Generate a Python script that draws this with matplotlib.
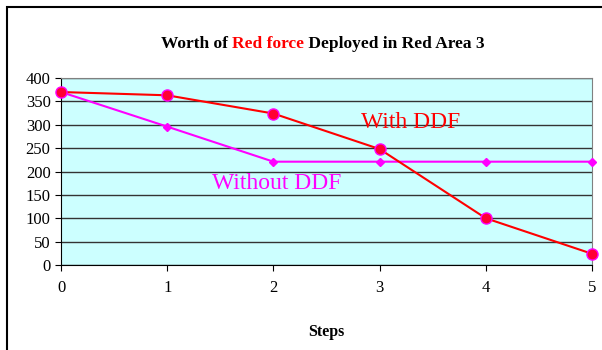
import matplotlib
matplotlib.use("Agg")
import matplotlib.pyplot as plt
from matplotlib.patches import Rectangle

# Worth of red force per step
steps = [0, 1, 2, 3, 4, 5]
with_ddf = [370, 363, 324, 248, 100, 24]
without_ddf = [370, 296, 221, 221, 221, 221]

plt.rcParams['font.family'] = ['Liberation Serif', 'DejaVu Serif']

fig = plt.figure(figsize=(6.02, 3.5), dpi=100)
ax = fig.add_axes([61 / 602, 1 - 265 / 350, 531 / 602, 187 / 350])

# outer chart frame (cut off at the right and bottom)
fig.patches.append(Rectangle((7 / 602, -0.1), 1.2, 1 - 7 / 350 + 0.1,
                             transform=fig.transFigure, fill=False,
                             edgecolor='black', linewidth=1.5))

ax.set_facecolor('#CCFFFF')
ax.set_xlim(0, 5)
ax.set_ylim(0, 400)
ax.set_yticks(range(0, 401, 50))
ax.set_xticks(steps)
ax.yaxis.grid(True, color='#333333', linewidth=1)
ax.set_axisbelow(True)

for side in ['top', 'right']:
    ax.spines[side].set_color('#808080')
ax.spines['left'].set_color('black')
ax.spines['bottom'].set_color('black')
ax.tick_params(axis='both', direction='out', length=4, labelsize=12, color='black')
ax.tick_params(axis='x', pad=7)

ax.plot(steps, without_ddf, color='#FF00FF', linewidth=1.5, marker='D',
        markersize=4.5, clip_on=False, zorder=3)
ax.plot(steps, with_ddf, color='#FF0000', linewidth=1.5, marker='o',
        markersize=8, markerfacecolor='#FF0033', markeredgecolor='#FF00FF',
        markeredgewidth=1, clip_on=False, zorder=4)

ax.text(3.29, 304, 'With DDF', color='#FF0000', fontsize=17, ha='center', va='center')
ax.text(2.03, 175, 'Without DDF', color='#FF00FF', fontsize=17, ha='center', va='center')

ax.set_xlabel('Steps', fontsize=11.5, fontweight='bold', labelpad=20)

# title with "Red force" in red, built from three pieces
pieces = [('Worth of ', 'black'), ('Red force', '#FF0000'), (' Deployed in Red Area 3', 'black')]
title_y = 1 - 48 / 350
texts = [fig.text(0, title_y, s, fontsize=12.5, fontweight='bold', color=c,
                  ha='left', va='baseline') for s, c in pieces]
fig.canvas.draw()
r = fig.canvas.get_renderer()
widths = [t.get_window_extent(r).width for t in texts]
x = 323 - sum(widths) / 2
for t, w in zip(texts, widths):
    t.set_position((x / fig.bbox.width, title_y))
    x += w

fig.savefig('out.png', dpi=100)
